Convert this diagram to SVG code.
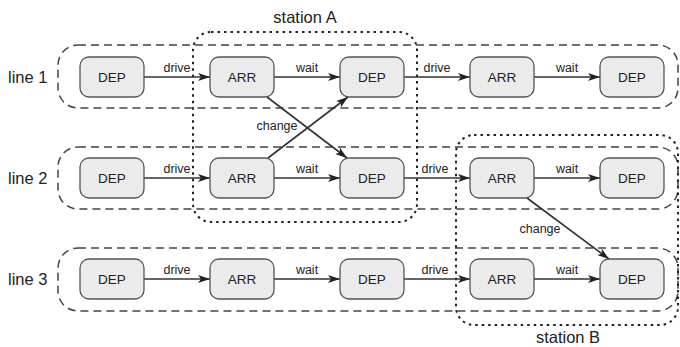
<svg xmlns="http://www.w3.org/2000/svg" width="680" height="347" viewBox="0 0 680 347">
<style>
text{font-family:"Liberation Sans",Arial,sans-serif;fill:#222}
.node rect{fill:#ebebeb;stroke:#555;stroke-width:1.3}
.node text{font-size:13.5px;text-anchor:middle}
.line{fill:none;stroke:#444;stroke-width:1.5;stroke-dasharray:8 5}
.station{fill:none;stroke:#222;stroke-width:2;stroke-dasharray:2.5 4}
.lbl{font-size:16.5px}
.edge{stroke:#333;stroke-width:1.6;fill:none;marker-end:url(#ah)}
.el{font-size:12.5px;text-anchor:middle}
</style>
<defs>
<marker id="ah" viewBox="0 0 12 8" refX="12" refY="4" markerWidth="12" markerHeight="8" markerUnits="userSpaceOnUse" orient="auto">
<path d="M0,0 L12,4 L0,8 L3,4 Z" fill="#222"/>
</marker>
</defs>
<g id="groups">
<rect class="line" x="58" y="45" width="620" height="63" rx="20"/>
<rect class="line" x="58" y="147" width="620" height="62" rx="20"/>
<rect class="line" x="58" y="248" width="620" height="63" rx="20"/>
<rect class="station" x="193" y="32" width="224" height="190" rx="18"/>
<rect class="station" x="456" y="135" width="222" height="190" rx="18"/>
<text class="lbl" x="8" y="83">line 1</text>
<text class="lbl" x="8" y="184">line 2</text>
<text class="lbl" x="8" y="285">line 3</text>
<text class="lbl" x="305" y="23" text-anchor="middle">station A</text>
<text class="lbl" x="568" y="343" text-anchor="middle">station B</text>
</g>
<g id="connectors">
<line class="edge" x1="144" y1="77" x2="210" y2="77"/>
<line class="edge" x1="274" y1="77" x2="340" y2="77"/>
<line class="edge" x1="404" y1="77" x2="470" y2="77"/>
<line class="edge" x1="534" y1="77" x2="600" y2="77"/>
<line class="edge" x1="144" y1="178" x2="210" y2="178"/>
<line class="edge" x1="274" y1="178" x2="340" y2="178"/>
<line class="edge" x1="404" y1="178" x2="470" y2="178"/>
<line class="edge" x1="534" y1="178" x2="600" y2="178"/>
<line class="edge" x1="144" y1="279" x2="210" y2="279"/>
<line class="edge" x1="274" y1="279" x2="340" y2="279"/>
<line class="edge" x1="404" y1="279" x2="470" y2="279"/>
<line class="edge" x1="534" y1="279" x2="600" y2="279"/>
<line class="edge" x1="267" y1="97" x2="347" y2="158"/>
<line class="edge" x1="268" y1="158" x2="348" y2="97"/>
<line class="edge" x1="527" y1="198" x2="609" y2="259"/>
<text class="el" x="177" y="72">drive</text>
<text class="el" x="307" y="72">wait</text>
<text class="el" x="437" y="72">drive</text>
<text class="el" x="567" y="72">wait</text>
<text class="el" x="177" y="173">drive</text>
<text class="el" x="307" y="173">wait</text>
<text class="el" x="435" y="173">drive</text>
<text class="el" x="567" y="173">wait</text>
<text class="el" x="177" y="274">drive</text>
<text class="el" x="307" y="274">wait</text>
<text class="el" x="435" y="274">drive</text>
<text class="el" x="567" y="274">wait</text>
<text class="el" x="277" y="130">change</text>
<text class="el" x="540" y="233">change</text>
</g>
<g id="n11" class="node"><rect x="80" y="57" width="64" height="40" rx="9"/><text x="112" y="82">DEP</text></g>
<g id="n12" class="node"><rect x="210" y="57" width="64" height="40" rx="9"/><text x="242" y="82">ARR</text></g>
<g id="n13" class="node"><rect x="340" y="57" width="64" height="40" rx="9"/><text x="372" y="82">DEP</text></g>
<g id="n14" class="node"><rect x="470" y="57" width="64" height="40" rx="9"/><text x="502" y="82">ARR</text></g>
<g id="n15" class="node"><rect x="600" y="57" width="64" height="40" rx="9"/><text x="632" y="82">DEP</text></g>
<g id="n21" class="node"><rect x="80" y="158" width="64" height="40" rx="9"/><text x="112" y="183">DEP</text></g>
<g id="n22" class="node"><rect x="210" y="158" width="64" height="40" rx="9"/><text x="242" y="183">ARR</text></g>
<g id="n23" class="node"><rect x="340" y="158" width="64" height="40" rx="9"/><text x="372" y="183">DEP</text></g>
<g id="n24" class="node"><rect x="470" y="158" width="64" height="40" rx="9"/><text x="502" y="183">ARR</text></g>
<g id="n25" class="node"><rect x="600" y="158" width="64" height="40" rx="9"/><text x="632" y="183">DEP</text></g>
<g id="n31" class="node"><rect x="80" y="259" width="64" height="40" rx="9"/><text x="112" y="284">DEP</text></g>
<g id="n32" class="node"><rect x="210" y="259" width="64" height="40" rx="9"/><text x="242" y="284">ARR</text></g>
<g id="n33" class="node"><rect x="340" y="259" width="64" height="40" rx="9"/><text x="372" y="284">DEP</text></g>
<g id="n34" class="node"><rect x="470" y="259" width="64" height="40" rx="9"/><text x="502" y="284">ARR</text></g>
<g id="n35" class="node"><rect x="600" y="259" width="64" height="40" rx="9"/><text x="632" y="284">DEP</text></g>
</svg>
